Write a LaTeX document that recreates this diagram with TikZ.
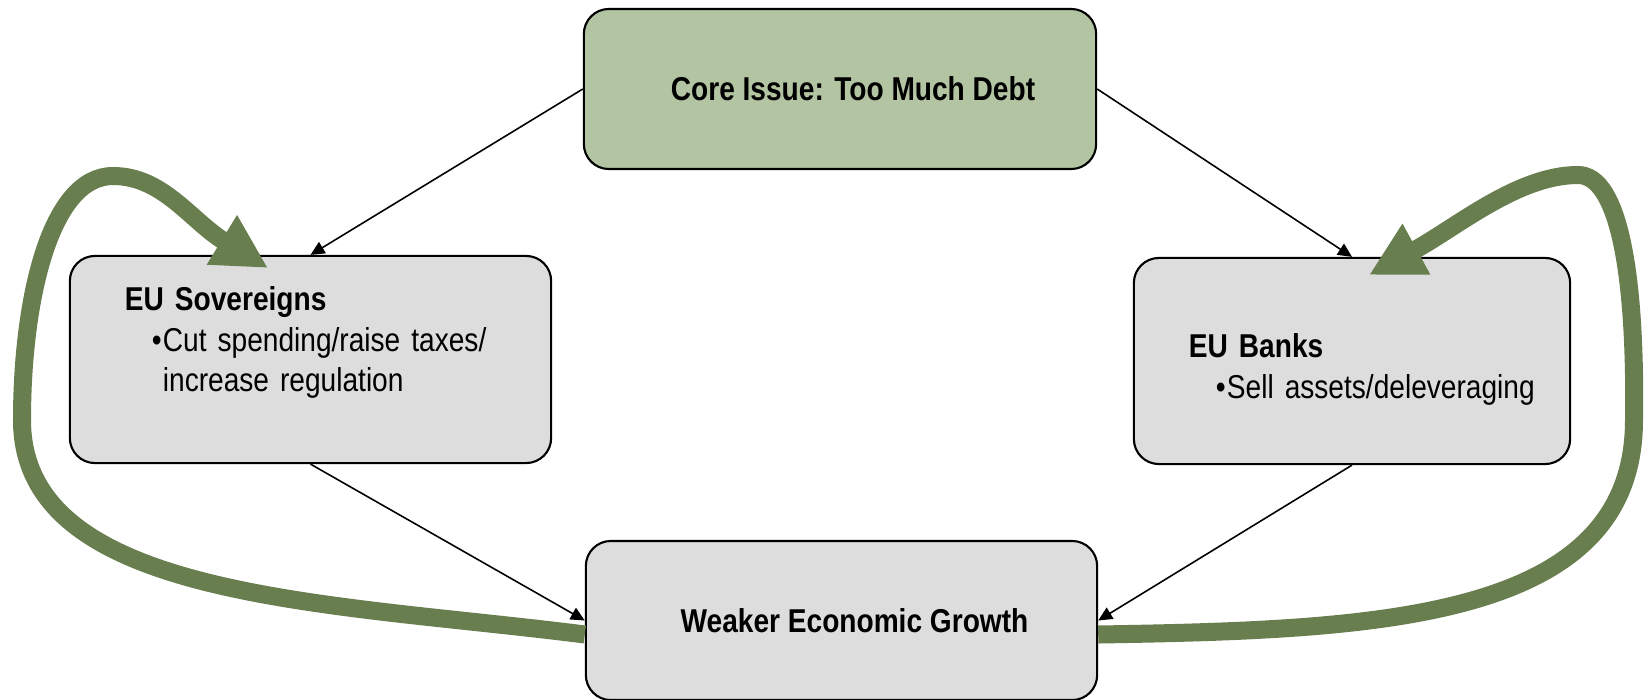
\documentclass[tikz,border=0pt]{standalone}
\usepackage{fontspec}
\setmainfont{Liberation Sans}[FakeStretch=0.85]
\usetikzlibrary{arrows.meta}
\definecolor{salvia}{HTML}{B2C4A2}
\definecolor{gris}{HTML}{DDDDDD}
\definecolor{musgo}{HTML}{687E4F}
\newcommand{\bul}{\hspace*{0.27cm}\makebox[0.11cm][l]{\textbullet}}
\tikzset{%
    caja/.style={rectangle, rounded corners=0.25cm, draw, line width=0.6pt, fill=gris, inner sep=0pt,
                 font=\fontsize{9.4}{11.6}\selectfont},
    ext/.style={caja, align=left, inner xsep=0.55cm},
    fle/.style={line width=0.45pt, -{Triangle[length=0.14cm,width=0.13cm]}},
    lazo/.style={line width=0.18cm, draw=musgo, -{Triangle[length=0.54cm,width=0.54cm,fill=musgo]}}
}

\begin{document}
\begin{tikzpicture}[x=0.01cm,y=-0.01cm]
    \useasboundingbox (0,0) rectangle (1645,700);
    \node[caja, fill=salvia, minimum width=5.12cm, minimum height=1.6cm] (core) at (840,89)
        {\hspace*{0.26cm}\bfseries Core Issue: Too Much Debt};
    \node[caja, minimum width=5.11cm, minimum height=1.59cm] (growth) at (841.5,620.5)
        {\hspace*{0.26cm}\bfseries Weaker Economic Growth};
    \node[ext, text width=3.71cm, minimum height=2.07cm] (sov) at (310.5,359.5)
        {\textbf{EU Sovereigns}\\ \bul Cut spending/raise taxes/\\ \hspace*{0.38cm}increase regulation\\ \mbox{}};
    \node[ext, text width=3.26cm, minimum height=2.06cm, text depth=0.3cm] (banks) at (1352,361)
        {\textbf{EU Banks}\\ \mbox{\bul Sell assets/deleveraging}};
    \draw [fle](core.west)--(sov.north);
    \draw [fle](core.east)--(banks.north);
    \draw [fle](sov.south)--(growth.west);
    \draw [fle](banks.south)--(growth.east);
    % feedback loops
    \coordinate (sovtip) at (268,268);
    \coordinate (banktip) at (1369,275);
    \draw [lazo]([yshift=-0.14cm]growth.west) .. controls (330,602) and (22,600) .. (22,420)
        .. controls (22,300) and (50,176) .. (113,176)
        .. controls (163,176) and (191,221) .. (sovtip);
    \draw [lazo]([yshift=-0.14cm]growth.east) .. controls (1380,630) and (1634,620) .. (1634,420)
        .. controls (1636,280) and (1620,175) .. (1578,175)
        .. controls (1518,175) and (1457,227) .. (banktip);
\end{tikzpicture}
\end{document}
